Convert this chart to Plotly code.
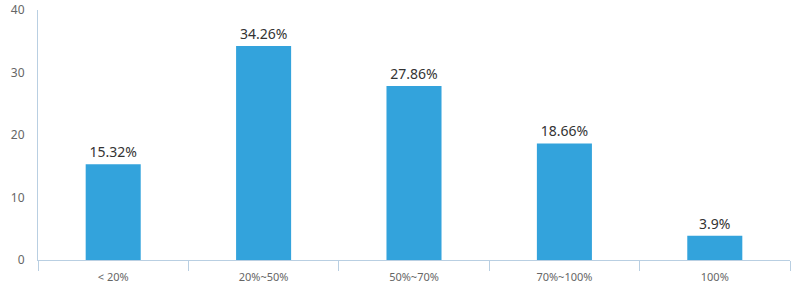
import plotly.graph_objects as go

categories = ["< 20%", "20%~50%", "50%~70%", "70%~100%", "100%"]
values = [15.32, 34.26, 27.86, 18.66, 3.9]
labels = ["15.32%", "34.26%", "27.86%", "18.66%", "3.9%"]

axis_color = "#b9cfe2"

fig = go.Figure(
    go.Bar(
        x=categories,
        y=values,
        text=labels,
        textposition="outside",
        textfont=dict(size=14, color="#333333", family="Noto Sans"),
        marker=dict(color="#33a3dc", line=dict(width=0)),
        width=0.366,
        cliponaxis=False,
    )
)

fig.update_layout(
    width=800,
    height=300,
    margin=dict(l=38, r=10, t=10, b=40, autoexpand=False),
    plot_bgcolor="white",
    paper_bgcolor="white",
    showlegend=False,
    font=dict(family="Noto Sans", color="#666666", size=11),
    xaxis=dict(
        type="category",
        range=[-0.5, 4.5],
        automargin=False,
        showline=True,
        linecolor=axis_color,
        linewidth=1,
        ticks="outside",
        tickson="boundaries",
        ticklen=10,
        tickcolor=axis_color,
        showgrid=False,
        zeroline=False,
        ticklabelstandoff=7,
        tickfont=dict(size=11, color="#666666"),
    ),
    yaxis=dict(
        range=[0, 40],
        tickvals=[0, 10, 20, 30, 40],
        automargin=False,
        showline=True,
        linecolor=axis_color,
        linewidth=1,
        ticks="",
        showgrid=False,
        zeroline=False,
        ticklabelstandoff=10,
        tickfont=dict(size=12, color="#666666"),
    ),
)

fig.write_html("out.html")
